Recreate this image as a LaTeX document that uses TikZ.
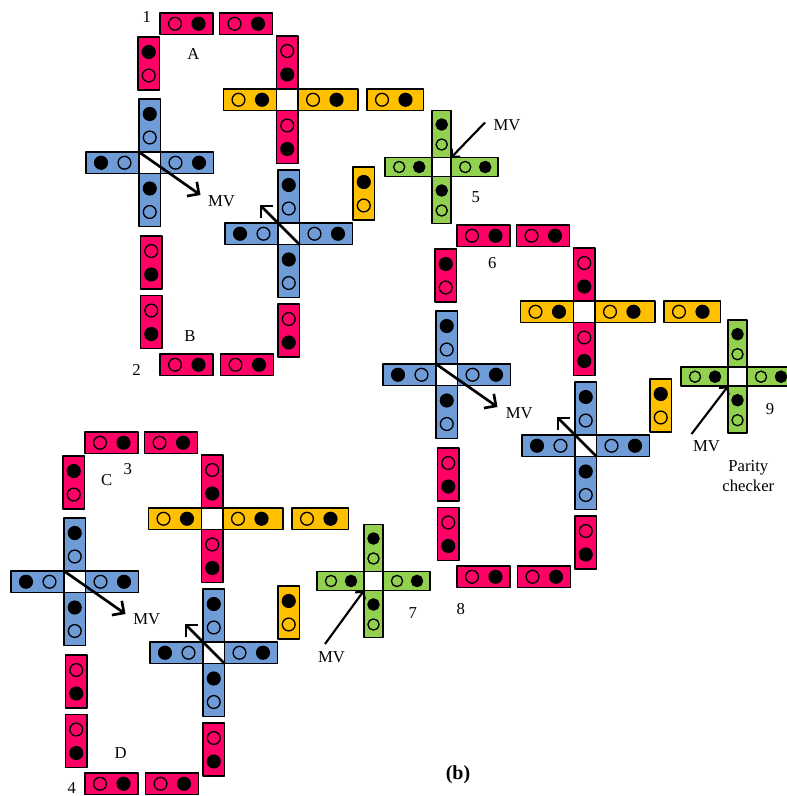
\documentclass[tikz,border=0pt]{standalone}
\usepackage{fontspec}
\setmainfont{Liberation Serif}
\usetikzlibrary{arrows.meta}

\definecolor{qpink}{RGB}{255,0,102}
\definecolor{qblue}{RGB}{111,155,215}
\definecolor{qorange}{RGB}{255,192,0}
\definecolor{qgreen}{RGB}{146,208,80}

% cell size and dot placement (picture units = pixels)
\newcommand{\cwid}{21.5}
\newcommand{\dotA}{15}
\newcommand{\dotB}{38.5}
\newcommand{\drad}{6.4}

% horizontal cell: left, top, length, colour, left dot, right dot
\newcommand{\hcell}[6]{%
  \filldraw[cellbox,fill=#4] ({#1},{#2}) rectangle ++({#3},\cwid);
  \path[#5] ({#1+\dotA},{#2+\cwid/2}) circle[radius=\drad];
  \path[#6] ({#1+\dotB},{#2+\cwid/2}) circle[radius=\drad];
}
% vertical cell: left, top, length, colour, top dot, bottom dot
\newcommand{\vcell}[6]{%
  \filldraw[cellbox,fill=#4] ({#1},{#2}) rectangle ++(\cwid,{#3});
  \path[#5] ({#1+\cwid/2},{#2+\dotA}) circle[radius=\drad];
  \path[#6] ({#1+\cwid/2},{#2+\dotB}) circle[radius=\drad];
}

% one loop with two majority gates and a crossing
\newcommand{\qcamodule}[1]{%
  % top of the loop
  \hcell{160}{13}{53}{qpink}{dotempty}{dotfull}
  \hcell{219.5}{13}{53}{qpink}{dotempty}{dotfull}
  \vcell{138}{37}{53}{qpink}{dotfull}{dotempty}
  % left gate
  \vcell{139}{99}{53}{qblue}{dotfull}{dotempty}
  \hcell{86}{152}{53}{qblue}{dotfull}{dotempty}
  \hcell{160.5}{152}{53}{qblue}{dotempty}{dotfull}
  \vcell{139}{173.5}{53}{qblue}{dotfull}{dotempty}
  \coordinate (#1-nw) at (139,152);
  \coordinate (#1-tipa) at (200.5,195);
  \draw[mvarrow] (#1-nw) -- (#1-tipa);
  % crossing
  \vcell{276.5}{36}{53}{qpink}{dotempty}{dotfull}
  \hcell{223.5}{89}{53}{qorange}{dotempty}{dotfull}
  \hcell{298}{89}{60}{qorange}{dotempty}{dotfull}
  \vcell{276.5}{110.5}{53}{qpink}{dotempty}{dotfull}
  \hcell{367}{89}{56.5}{qorange}{dotempty}{dotfull}
  % right gate
  \vcell{278}{170}{53}{qblue}{dotfull}{dotempty}
  \hcell{225}{223}{53}{qblue}{dotfull}{dotempty}
  \hcell{299.5}{223}{53}{qblue}{dotempty}{dotfull}
  \vcell{278}{244.5}{53}{qblue}{dotfull}{dotempty}
  \coordinate (#1-se) at (299.5,244.5);
  \coordinate (#1-tipb) at (259.5,204.5);
  \draw[mvarrow] (#1-se) -- (#1-tipb);
  \vcell{353}{167}{53}{qorange}{dotfull}{dotempty}
  % bottom of the loop
  \vcell{140.5}{236}{53}{qpink}{dotempty}{dotfull}
  \vcell{140.5}{295.5}{53}{qpink}{dotempty}{dotfull}
  \hcell{160}{354}{53}{qpink}{dotempty}{dotfull}
  \hcell{220.5}{354}{53}{qpink}{dotempty}{dotfull}
  \vcell{278}{304}{53}{qpink}{dotempty}{dotfull}
}

% small green gate: name, centre x, centre y
\newcommand{\qcagate}[3]{%
  \renewcommand{\cwid}{19}\renewcommand{\dotA}{14}%
  \renewcommand{\dotB}{34}\renewcommand{\drad}{5.6}%
  \vcell{#2-9.5}{#3-56.5}{47}{qgreen}{dotfull}{dotempty}
  \hcell{#2-56.5}{#3-9.5}{47}{qgreen}{dotempty}{dotfull}
  \hcell{#2+9.5}{#3-9.5}{47}{qgreen}{dotempty}{dotfull}
  \vcell{#2-9.5}{#3+9.5}{47}{qgreen}{dotfull}{dotempty}
  \coordinate (#1-ne) at ({#2+9.5},{#3-9.5});
  \coordinate (#1-sw) at ({#2-9.5},{#3+9.5});
}

\begin{document}
\begin{tikzpicture}[
    x=0.75pt,y=-0.75pt,
    line join=round,
    cellbox/.style={draw=black,line width=1.4pt},
    dotfull/.style={draw=black,fill=black,line width=1pt},
    dotempty/.style={draw=black,line width=1pt},
    mvarrow/.style={line width=2pt,-{Straight Barb[length=6.5pt,width=13pt]}},
    gatearrow/.style={line width=1.6pt,-{Straight Barb[length=4pt,width=9pt]}},
    lbl/.style={font=\fontsize{12.5}{15}\selectfont,inner sep=0pt}
]
\useasboundingbox (0,0) rectangle (787,796);
\clip (0,0) rectangle (787,796);

% -------------------------------------------------
% Three loops
% -------------------------------------------------

\qcamodule{ma}
\begin{scope}[shift={(-75,419)}]
  \qcamodule{mb}
\end{scope}
\begin{scope}[shift={(297,212)}]
  \qcamodule{mc}
\end{scope}

% -------------------------------------------------
% Green gates
% -------------------------------------------------

\begin{scope}
  \qcagate{g5}{441.7}{167}
  \qcagate{g7}{373.5}{581}
  \qcagate{g9}{737.5}{376.7}
\end{scope}

\coordinate (s5) at (485,122.5);
\coordinate (s7) at (325,644);
\coordinate (s9) at (691.5,434);
\draw[gatearrow] (s5) -- (g5-ne);
\draw[gatearrow] (s7) -- (g7-sw);
\draw[gatearrow] (s9) -- (g9-sw);

% -------------------------------------------------
% Labels
% -------------------------------------------------

\node[lbl] (l1) at (146.7,17) {1};
\node[lbl] (lA) at (193.5,53.5) {A};
\node[lbl] (lB) at (190,336) {B};
\node[lbl] (l2) at (136.5,369.5) {2};
\node[lbl] (mva) at (221.5,201.5) {MV};

\node[lbl] (l3) at (127.7,469.3) {3};
\node[lbl] (lC) at (106.7,480) {C};
\node[lbl] (lD) at (120.7,753.3) {D};
\node[lbl] (l4) at (71.7,788.3) {4};
\node[lbl] (mvb) at (146.7,619.3) {MV};

\node[lbl] (l6) at (492.3,263.3) {6};
\node[lbl] (mvc) at (519.3,412.7) {MV};
\node[lbl] (l8) at (460.7,609.3) {8};

\node[lbl] (l5) at (475.7,196.7) {5};
\node[lbl] (mv5) at (507,125) {MV};
\node[lbl] (l7) at (412.7,612.7) {7};
\node[lbl] (mv7) at (331.5,657) {MV};
\node[lbl] (l9) at (770,409.3) {9};
\node[lbl] (mv9) at (706.5,446) {MV};
\node[lbl,align=center] (parity) at (748.3,476) {Parity\\checker};

\node[font=\fontsize{15}{18}\selectfont\bfseries,inner sep=0pt] (cap) at (458,775) {(b)};
\end{tikzpicture}
\end{document}
